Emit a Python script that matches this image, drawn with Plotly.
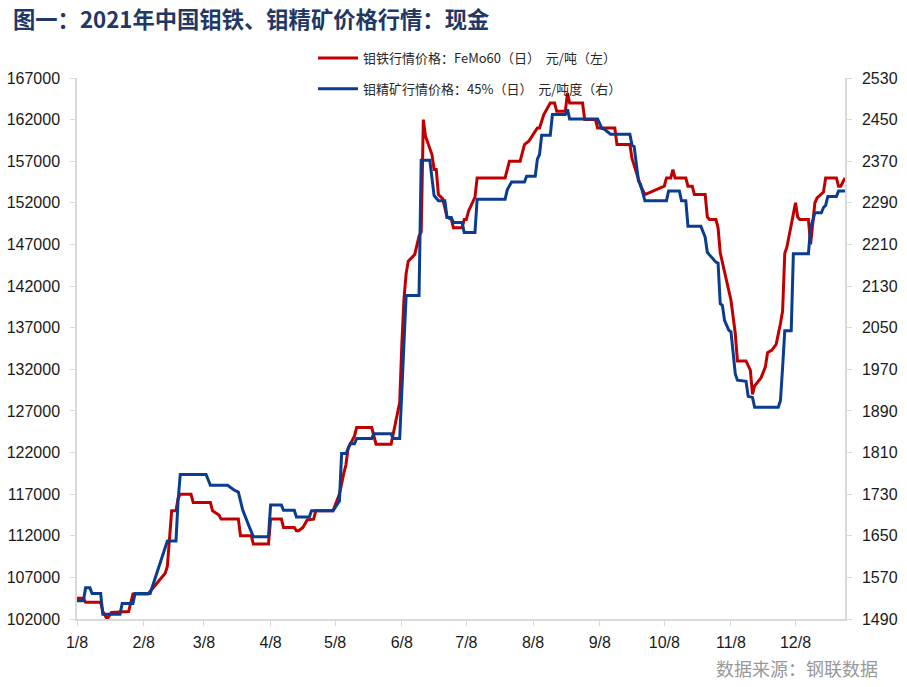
import plotly.graph_objects as go

# ---- data (vertices) ----
red_dates = ['2021-01-08','2021-01-11','2021-01-12','2021-01-19','2021-01-20','2021-01-22','2021-01-24','2021-02-01','2021-02-03','2021-02-10',
             '2021-02-18','2021-02-19','2021-02-21','2021-02-23','2021-02-24','2021-02-25','2021-03-02','2021-03-03','2021-03-11','2021-03-12',
             '2021-03-15','2021-03-16','2021-03-24','2021-03-25','2021-03-30','2021-03-31','2021-04-07','2021-04-08','2021-04-13','2021-04-14',
             '2021-04-19','2021-04-20','2021-04-21','2021-04-23','2021-04-25','2021-04-28','2021-04-29','2021-05-07','2021-05-10','2021-05-11',
             '2021-05-12','2021-05-13','2021-05-14','2021-05-17','2021-05-18','2021-05-25','2021-05-26','2021-05-27','2021-06-03','2021-06-04',
             '2021-06-07','2021-06-08','2021-06-09','2021-06-10','2021-06-11','2021-06-14','2021-06-16','2021-06-17','2021-06-18','2021-06-19',
             '2021-06-22','2021-06-23','2021-06-24','2021-06-25','2021-06-27','2021-06-29','2021-07-01','2021-07-02','2021-07-06','2021-07-07',
             '2021-07-08','2021-07-09','2021-07-12','2021-07-13','2021-07-26','2021-07-28','2021-08-02','2021-08-04','2021-08-06','2021-08-08',
             '2021-08-10','2021-08-11','2021-08-12','2021-08-13','2021-08-16','2021-08-18','2021-08-19','2021-08-23','2021-08-24','2021-08-25',
             '2021-08-31','2021-09-01','2021-09-06','2021-09-07','2021-09-15','2021-09-16','2021-09-22','2021-09-23','2021-09-24','2021-09-26',
             '2021-09-27','2021-09-29','2021-10-08','2021-10-09','2021-10-11','2021-10-12','2021-10-13','2021-10-18','2021-10-19','2021-10-21',
             '2021-10-22','2021-10-27','2021-10-28','2021-10-29','2021-11-01','2021-11-02','2021-11-03','2021-11-08','2021-11-10','2021-11-11',
             '2021-11-15','2021-11-17','2021-11-18','2021-11-19','2021-11-22','2021-11-24','2021-11-25','2021-11-27','2021-11-29','2021-12-01',
             '2021-12-02','2021-12-03','2021-12-04','2021-12-08','2021-12-09','2021-12-10','2021-12-14','2021-12-15','2021-12-16','2021-12-17',
             '2021-12-18','2021-12-20','2021-12-21','2021-12-22','2021-12-27','2021-12-28','2021-12-29','2021-12-31']
red_vals = [104500,104500,104000,104000,102900,102000,102800,102900,105000,105000,
            107500,108300,115000,115000,116500,117000,117000,116000,116000,115000,
            114500,114000,114000,112000,112000,111000,111000,114000,114000,113000,
            113000,112600,112600,113000,113900,114000,115000,115000,117000,118500,
            119500,120500,122500,124000,125000,125000,124000,123000,123000,124300,
            128000,135000,140500,143500,145000,145800,148000,148500,162000,160000,
            157800,156000,156000,153000,152500,150300,150000,149000,149000,150000,
            150000,151000,152700,155000,155000,157000,157000,159000,159400,160200,
            161000,161000,161800,162600,164000,164000,163000,163000,165200,164000,
            164000,162000,162000,161000,161000,159000,159000,157300,156500,155000,
            154000,153000,154000,155000,155000,156000,155000,155000,154000,154000,
            153000,153000,150300,150000,150000,149000,146000,140300,136300,133000,
            133000,131900,129000,130000,131000,132300,134000,134300,135000,137500,
            139000,145900,146700,152000,150300,150000,150000,147000,150000,152000,
            152600,153000,153300,155000,155000,154000,154000,155000]

blue_dates = ['2021-01-08','2021-01-11','2021-01-12','2021-01-14','2021-01-15','2021-01-19','2021-01-20','2021-01-28','2021-01-29','2021-02-03',
              '2021-02-04','2021-02-11','2021-02-19','2021-02-23','2021-02-24','2021-02-25','2021-03-09','2021-03-11','2021-03-19','2021-03-22',
              '2021-03-24','2021-03-26','2021-03-29','2021-03-31','2021-04-07','2021-04-08','2021-04-13','2021-04-14','2021-04-19','2021-04-20',
              '2021-04-26','2021-04-27','2021-05-07','2021-05-10','2021-05-11','2021-05-13','2021-05-14','2021-05-15','2021-05-17','2021-05-18',
              '2021-05-25','2021-05-26','2021-06-03','2021-06-04','2021-06-07','2021-06-10','2021-06-16','2021-06-17','2021-06-21','2021-06-22',
              '2021-06-23','2021-06-25','2021-06-28','2021-06-29','2021-07-01','2021-07-02','2021-07-06','2021-07-07','2021-07-12','2021-07-13',
              '2021-07-26','2021-07-27','2021-07-29','2021-08-04','2021-08-05','2021-08-09','2021-08-10','2021-08-11','2021-08-12','2021-08-16',
              '2021-08-17','2021-08-23','2021-08-24','2021-08-25','2021-09-07','2021-09-09','2021-09-10','2021-09-13','2021-09-22','2021-09-23',
              '2021-09-24','2021-09-26','2021-09-27','2021-09-29','2021-10-09','2021-10-10','2021-10-15','2021-10-16','2021-10-18','2021-10-19',
              '2021-10-25','2021-10-27','2021-10-28','2021-10-29','2021-11-01','2021-11-02','2021-11-03','2021-11-04','2021-11-05','2021-11-07',
              '2021-11-08','2021-11-10','2021-11-11','2021-11-15','2021-11-16','2021-11-18','2021-11-19','2021-11-30','2021-12-01','2021-12-02',
              '2021-12-03','2021-12-06','2021-12-07','2021-12-14','2021-12-15','2021-12-16','2021-12-17','2021-12-20','2021-12-21','2021-12-22',
              '2021-12-23','2021-12-27','2021-12-28','2021-12-31']
blue_vals = [1525,1525,1550,1550,1539,1539,1499,1499,1520,1520,
             1539,1539,1640,1640,1718,1768,1768,1747,1747,1738,
             1734,1700,1668,1648,1648,1709,1709,1699,1699,1686,
             1686,1698,1698,1717,1808,1808,1817,1827,1827,1837,
             1837,1846,1846,1837,1837,2112,2112,2372,2372,2332,
             2304,2294,2294,2262,2262,2252,2252,2233,2233,2297,
             2297,2315,2330,2330,2341,2341,2374,2383,2420,2420,
             2460,2460,2470,2451,2451,2433,2432,2422,2422,2401,
             2398,2332,2325,2294,2294,2313,2313,2294,2294,2245,
             2245,2224,2195,2190,2176,2174,2096,2093,2064,2045,
             2042,1961,1949,1947,1918,1916,1897,1897,1910,1974,
             2044,2044,2192,2192,2243,2255,2271,2271,2281,2285,
             2302,2302,2313,2313]

tick_dates = ['2021-01-08','2021-02-08','2021-03-08','2021-04-08','2021-05-08','2021-06-08',
              '2021-07-08','2021-08-08','2021-09-08','2021-10-08','2021-11-08','2021-12-08']
tick_text = ['1/8','2/8','3/8','4/8','5/8','6/8','7/8','8/8','9/8','10/8','11/8','12/8']

red_name = '钼铁行情价格：FeMo60（日）\u00a0\u00a0元/吨（左）'
blue_name = '钼精矿行情价格：45%（日）\u00a0\u00a0元/吨度（右）'

AXIS_C = '#d9d9d9'
TICK_FONT = dict(family='Liberation Sans, Arial, sans-serif', size=16, color='#1a1a1a')

fig = go.Figure()
fig.add_trace(go.Scatter(x=red_dates, y=red_vals, name=red_name, mode='lines',
                         line=dict(color='#C00000', width=3), legendgroup='a'))
fig.add_trace(go.Scatter(x=blue_dates, y=blue_vals, name=blue_name, mode='lines', yaxis='y2',
                         line=dict(color='#0A3D8F', width=3), legendgroup='b'))

fig.update_layout(
    width=907, height=687,
    margin=dict(l=77, r=62, t=78, b=68, autoexpand=False),
    paper_bgcolor='white', plot_bgcolor='white',
    title=dict(text='<b>图一：2021年中国钼铁、钼精矿价格行情：现金</b>',
               font=dict(family='Noto Sans CJK SC', size=22.3, color='#1F3864'),
               xref='container', yref='container', x=13/907, xanchor='left',
               y=1-20/687, yanchor='middle'),
    xaxis=dict(type='date', range=['2021-01-08', '2021-12-31'],
               tickvals=tick_dates, ticktext=tick_text,
               ticks='outside', ticklen=5, tickcolor=AXIS_C, tickwidth=1,
               showline=True, linecolor=AXIS_C, linewidth=1.5,
               showgrid=False, zeroline=False, automargin=False,
               tickfont=dict(family='Liberation Sans Narrow, Liberation Sans, Arial', size=16, color='#1a1a1a'),
               ticklabelstandoff=3),
    yaxis=dict(range=[102000, 167000], tick0=102000, dtick=5000, tickformat='d',
               ticks='outside', ticklen=5, tickcolor=AXIS_C, tickwidth=1,
               showline=True, linecolor=AXIS_C, linewidth=1.5, automargin=False,
               showgrid=False, zeroline=False, tickfont=TICK_FONT,
               ticklabelstandoff=7),
    yaxis2=dict(range=[1490, 2530], tick0=1490, dtick=80, tickformat='d',
                overlaying='y', side='right', automargin=False,
                ticks='outside', ticklen=5, tickcolor=AXIS_C, tickwidth=1,
                showline=True, linecolor=AXIS_C, linewidth=1.5,
                showgrid=False, zeroline=False, tickfont=TICK_FONT,
                ticklabelstandoff=7),
    legend=dict(xref='container', yref='container', x=313/907, xanchor='left',
                y=1-43/687, yanchor='top', orientation='v',
                font=dict(family='Noto Sans CJK SC', size=13, color='#262626'),
                bgcolor='rgba(0,0,0,0)', tracegroupgap=11, itemwidth=40),
    showlegend=True,
    annotations=[dict(text='数据来源：钢联数据', xref='paper', yref='paper',
                      x=(880-77)/768, y=(619-668)/541, xanchor='right', yanchor='middle',
                      showarrow=False,
                      font=dict(family='Noto Sans CJK SC', size=18, color='#999999'))],
)

fig.write_html('out.html')
